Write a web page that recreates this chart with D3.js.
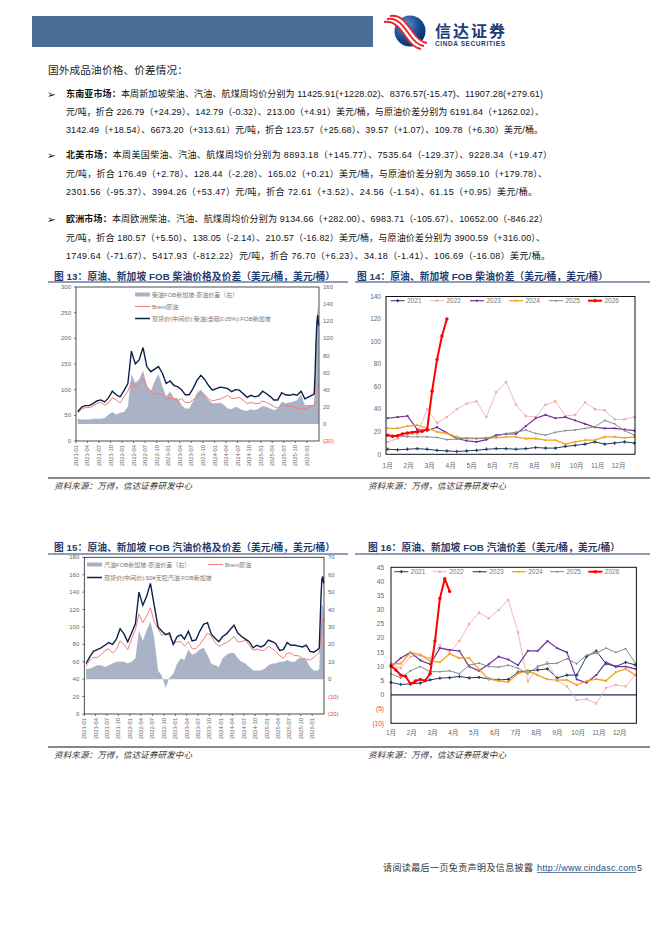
<!DOCTYPE html>
<html><head><meta charset="utf-8">
<script src="https://cdn.jsdelivr.net/npm/d3@7"></script>
<style>
body{margin:0;background:#fff}
svg{display:block}
text{font-family:"Liberation Sans","Noto Sans CJK SC",sans-serif}
</style></head><body>
<svg id="page" width="662" height="936"></svg>
<script>
// ---- monthly series (mid-month points 2021-01 .. 2026-02, then weekly tail) ----
var tailDates = ["2026-02-27","2026-03-06","2026-03-13","2026-03-20","2026-03-27","2026-04-03"];
var tsTicks = ["2021-01","2021-04","2021-07","2021-10","2022-01","2022-04","2022-07","2022-10",
  "2023-01","2023-04","2023-07","2023-10","2024-01","2024-04","2024-07","2024-10",
  "2025-01","2025-04","2025-07","2025-10","2026-01"];

var brent = [55,62,65,65,68,73,75,70,74,84,80,74,
  86,97,115,105,112,122,106,98,90,93,90,81,
  83,83,78,83,75,75,80,86,93,90,82,78,
  80,82,85,89,83,83,85,79,73,75,73,73,
  78,75,72,67,64,70,70,67,67,64,63,62,
  65,69, 70,80,92,103,110,107];
var dieselSpot = [57,66,69,69,73,78,80,76,84,97,90,86,
  98,112,175,150,158,182,145,135,140,145,132,112,
  117,108,106,100,90,90,102,118,128,120,108,99,
  102,105,104,102,96,100,99,92,85,89,86,88,
  97,92,87,80,80,94,90,89,91,89,97,82,
  86,90, 92,130,190,230,245,225];
var dieselSpread = [6,5,5,5,6,6,6,7,11,14,11,13,
  14,20,58,48,52,62,45,38,50,58,44,32,
  38,30,30,22,18,18,26,36,40,34,28,24,
  24,25,22,18,17,20,18,16,15,17,16,18,
  21,20,18,16,18,26,24,25,26,28,34,22,
  22,22, 23,50,98,128,137,119];
var gasSpot = [58,66,72,74,76,79,82,80,86,98,92,83,
  93,104,140,125,135,150,125,100,95,91,93,80,
  89,91,86,95,84,85,95,103,105,92,87,83,
  89,92,97,102,93,89,86,83,76,79,77,79,
  85,83,81,73,74,82,79,79,78,77,79,72,
  71,74, 76,105,135,155,158,150];
var gasSpread = [6,6,7,8,8,7,8,9,10,10,10,9,
  10,12,28,22,28,33,24,5,2,-5,1,3,
  9,12,11,17,14,15,17,18,14,9,8,7,
  12,14,15,15,12,10,9,7,5,5,5,6,
  8,9,9,10,10,11,10,10,12,12,11,7,
  5,5, 6,20,34,43,42,38];

// ---- seasonal cracks: biweekly points per year, weekly for 2026 ----
var years = ["2021","2022","2023","2024","2025","2026"];
var monthLabels = ["1月","2月","3月","4月","5月","6月","7月","8月","9月","10月","11月","12月"];
var dieselCrack = [
  [4.5,4,4.5,5,4.5,3.5,3,2.5,3,3.5,4.5,5,5,4.5,5,6,5.5,5.5,7,8,9,11,9,10,11,10],
  [11,14,17,18,40,28,33,40,45,47,33,55,64,44,34,33,44,47,34,35,46,40,39,31,31,33],
  [32,33,34,22,21,24,19,14,12,11,13,17,18,18,25,32,35,32,33,30,27,24,23,23,22,21],
  [23,23,25,26,23,20,18.5,15.5,14,14,14.5,14.5,15.5,15.5,14,14,12.5,12.5,9,11,12.5,12.5,15.5,15.5,14.5,15.5],
  [17,16.5,15.5,15.5,15.5,15,13,13.5,14.5,14,14.5,16,18.5,19.5,21.5,18.5,17,19.5,21,21.5,23,24.5,30,27,21,17],
  [17,16,16.5,18,19,19.5,20,20.5,22,56,84,105,120]
];
var gasCrack = [
  [4.4,3.7,3.9,4.2,5.3,5.9,6.1,6.5,6,6.2,5.7,5.3,5.5,8,8.5,8.8,9.2,6,7,7,13.5,15.5,11,10,11.5,10.6],
  [10.5,9.5,13.5,14,13,17.5,15,19,25,29,27,30,33.5,22,4.7,10,11.5,5,3,-1.8,-1.5,-3,2.5,3.5,3,7],
  [10,13,15,12.2,10.8,16.5,15.9,15.5,10,8.5,10.8,13.5,12.5,10.5,15.5,15.5,19,16.5,15,5.5,4.3,7,11.5,10,10,9.2],
  [11,11,15,14.2,12,11.5,14.5,13,13,9,5.6,5,4.5,7.6,8.5,7,5.5,5.2,5.3,3.5,4.9,5.6,5,8,9.2,7],
  [7.5,6,8.5,10,8.2,8.2,8.5,7.5,10.5,11.2,10,9.8,10.5,9.4,7.5,10,11,11.2,12.8,11,14,14.7,16.5,15,16.3,11.2],
  [10.2,8.8,7,6.5,3.9,4.9,5.5,5,7.5,19,34,41,36.5]
];

var yearStyle = [
  {color:"#1f3a68", width:1, sym:d3.symbolCross, size:6},
  {color:"#f4a3aa", width:0.8, sym:d3.symbolCross, size:5},
  {color:"#7030a0", width:1.2, sym:d3.symbolCircle, size:4},
  {color:"#f5a21b", width:1.3, sym:d3.symbolTriangle, size:4},
  {color:"#858c8c", width:1, sym:d3.symbolCircle, size:3},
  {color:"#ff0000", width:2, sym:d3.symbolCircle, size:9}
];

var parseDay = d3.utcParse("%Y-%m-%d"), parseMonth = d3.utcParse("%Y-%m");
var tsDates = d3.utcMonth.range(new Date(Date.UTC(2021,0,1)), new Date(Date.UTC(2026,2,1)))
  .map(d => d3.utcDay.offset(d, 14)).concat(tailDates.map(parseDay));

var svg = d3.select("#page");
svg.append("rect").attr("width", 662).attr("height", 936).attr("fill", "#fff");

function fitText(sel, target) {
  var w = sel.node().getComputedTextLength();
  if (w > target) sel.attr("font-size", parseFloat(sel.attr("font-size")) * target / w * 0.99);
  sel.attr("textLength", target).attr("lengthAdjust", "spacing");
}

// ---- header ----
svg.append("rect").attr("x", 32).attr("y", 16).attr("width", 341).attr("height", 31).attr("fill", "#4b6d94");
var defs = svg.append("defs");
var rg = defs.append("radialGradient").attr("id", "ball").attr("cx", "35%").attr("cy", "30%").attr("r", "75%");
rg.append("stop").attr("offset", "0%").attr("stop-color", "#5f8fd0");
rg.append("stop").attr("offset", "60%").attr("stop-color", "#1c4a93");
rg.append("stop").attr("offset", "100%").attr("stop-color", "#0b2a62");
svg.append("circle").attr("cx", 410).attr("cy", 31).attr("r", 15.5).attr("fill", "url(#ball)");
svg.append("path").attr("d", "M387,19 C398,17 404,27 409,34 C413,40 417,45 424,46")
  .attr("fill", "none").attr("stroke", "#fff").attr("stroke-width", 9);
[-3, 0, 3].forEach(function (o) {
  svg.append("path").attr("d", `M${387 + o},${19 - o} C${398 + o},${17 - o} ${404 + o},${27 - o} ${409 + o},${34 - o} C${413 + o},${40 - o} ${417 + o},${45 - o} ${424 + o},${46 - o}`)
    .attr("fill", "none").attr("stroke", "#e4252b").attr("stroke-width", 1.8);
});
fitText(svg.append("text").attr("x", 435).attr("y", 37).attr("font-size", 16).attr("font-weight", "bold")
  .attr("fill", "#1a3c7a").text("信达证券"), 70);
fitText(svg.append("text").attr("x", 435).attr("y", 45.5).attr("font-size", 6.5).attr("font-weight", "bold")
  .attr("fill", "#1a3c7a").text("CINDA SECURITIES"), 70);

// ---- text block ----
fitText(svg.append("text").attr("x", 48).attr("y", 74).attr("font-size", 11).attr("fill", "#222")
  .text("国外成品油价格、价差情况："), 140);

var bodyLines = [
  {y:97, w:477, label:"东南亚市场：", text:"本周新加坡柴油、汽油、航煤周均价分别为 11425.91(+1228.02)、8376.57(-15.47)、11907.28(+279.61)"},
  {y:115, w:478, text:"元/吨，折合 226.79（+24.29）、142.79（-0.32）、213.00（+4.91）美元/桶，与原油价差分别为 6191.84（+1262.02）、"},
  {y:133, w:477, text:"3142.49（+18.54）、6673.20（+313.61）元/吨，折合 123.57（+25.68）、39.57（+1.07）、109.78（+6.30）美元/桶。"},
  {y:158, w:486, label:"北美市场：", text:"本周美国柴油、汽油、航煤周均价分别为 8893.18（+145.77）、7535.64（-129.37）、9228.34（+19.47）"},
  {y:176.5, w:481, text:"元/吨，折合 176.49（+2.78）、128.44（-2.28）、165.02（+0.21）美元/桶，与原油价差分别为 3659.10（+179.78）、"},
  {y:195, w:471, text:"2301.56（-95.37）、3994.26（+53.47）元/吨，折合 72.61（+3.52）、24.56（-1.54）、61.15（+0.95）美元/桶。"},
  {y:222, w:482, label:"欧洲市场：", text:"本周欧洲柴油、汽油、航煤周均价分别为 9134.66（+282.00）、6983.71（-105.67）、10652.00（-846.22）"},
  {y:240.5, w:479, text:"元/吨，折合 180.57（+5.50）、138.05（-2.14）、210.57（-16.82）美元/桶，与原油价差分别为 3900.59（+316.00）、"},
  {y:259, w:484, text:"1749.64（-71.67）、5417.93（-812.22）元/吨，折合 76.70（+6.23）、34.18（-1.41）、106.69（-16.08）美元/桶。"}
];
bodyLines.forEach(function (l) {
  if (l.label) {
    svg.append("text").attr("x", 47).attr("y", l.y + 0.5).attr("font-size", 10.5).attr("fill", "#111")
      .style("font-family", "DejaVu Sans").text("➢");
  }
  var t = svg.append("text").attr("x", 66).attr("y", l.y).attr("font-size", 9).attr("fill", "#111");
  if (l.label) t.append("tspan").attr("font-weight", "bold").text(l.label);
  t.append("tspan").text(l.text);
  fitText(t, l.w);
});

// ---- titles, rules, sources ----
var titles = [
  {x:54, y:279.5, w:281, t:"图 13：原油、新加坡 FOB 柴油价格及价差（美元/桶，美元/桶）"},
  {x:357, y:279.5, w:251, t:"图 14：原油、新加坡 FOB 柴油价差（美元/桶，美元/桶）"},
  {x:54, y:551, w:281, t:"图 15：原油、新加坡 FOB 汽油价格及价差（美元/桶，美元/桶）"},
  {x:368, y:551, w:252, t:"图 16：原油、新加坡 FOB 汽油价差（美元/桶，美元/桶）"}
];
titles.forEach(function (d) {
  fitText(svg.append("text").attr("x", d.x).attr("y", d.y).attr("font-size", 10).attr("font-weight", "bold")
    .attr("fill", "#1f3b70").text(d.t), d.w);
});
[[48, 348, 282], [355, 650, 282], [48, 348, 554], [355, 650, 554]].forEach(function (r) {
  svg.append("line").attr("x1", r[0]).attr("x2", r[1]).attr("y1", r[2]).attr("y2", r[2])
    .attr("stroke", "#1f3b70").attr("stroke-width", 1.2);
});
[478, 747].forEach(function (y) {
  svg.append("line").attr("x1", 48).attr("x2", 650).attr("y1", y).attr("y2", y).attr("stroke", "#111").attr("stroke-width", 1);
});
[[54, 488.5], [368, 488.5], [54, 757.5], [368, 757.5]].forEach(function (p) {
  fitText(svg.append("text").attr("x", p[0]).attr("y", p[1]).attr("font-size", 8.5).attr("font-style", "italic")
    .attr("fill", "#333").text("资料来源：万得，信达证券研发中心"), 138);
});

// ---- footer ----
fitText(svg.append("text").attr("x", 383).attr("y", 871).attr("font-size", 9).attr("fill", "#333")
  .text("请阅读最后一页免责声明及信息披露"), 150);
fitText(svg.append("text").attr("x", 537).attr("y", 871).attr("font-size", 9).attr("fill", "#1f4e79")
  .text("http://www.cindasc.com"), 99);
svg.append("line").attr("x1", 537).attr("x2", 636).attr("y1", 872.5).attr("y2", 872.5).attr("stroke", "#1f4e79").attr("stroke-width", 0.7);
svg.append("text").attr("x", 637).attr("y", 871).attr("font-size", 9).attr("fill", "#333").text("5");

// ---- time series charts ----
function fmtR(v) { return v < 0 ? "(" + (-v) + ")" : String(v); }

function tsChart(c) {
  var g = svg.append("g");
  var x = d3.scaleUtc().domain([Date.UTC(2021, 0, 1), Date.UTC(2026, 3, 6)]).range([c.x0, c.x1]);
  var yL = d3.scaleLinear().domain([0, c.lMax]).range([c.y1, c.y0]);
  var yR = d3.scaleLinear().domain([c.rMin, c.rMax]).range([c.y1, c.y0]);
  var idx = d3.range(tsDates.length);

  g.append("path").datum(idx).attr("fill", "#aab3c5")
    .attr("d", d3.area().x(i => x(tsDates[i])).y0(yR(0)).y1(i => yR(c.spread[i])));
  g.append("path").datum(idx).attr("fill", "none").attr("stroke", "#f47c7c").attr("stroke-width", 1)
    .attr("d", d3.line().x(i => x(tsDates[i])).y(i => yL(brent[i])));
  g.append("path").datum(idx).attr("fill", "none").attr("stroke", "#0e1f4d").attr("stroke-width", 1.4)
    .attr("d", d3.line().x(i => x(tsDates[i])).y(i => yL(c.spot[i])));

  g.append("rect").attr("x", c.x0).attr("y", c.y0).attr("width", c.x1 - c.x0).attr("height", c.y1 - c.y0)
    .attr("fill", "none").attr("stroke", "#222").attr("stroke-width", 0.8);

  d3.range(0, c.lMax + 1, c.lStep).forEach(function (v) {
    g.append("line").attr("x1", c.x0 - 2).attr("x2", c.x0).attr("y1", yL(v)).attr("y2", yL(v)).attr("stroke", "#222").attr("stroke-width", 0.6);
    g.append("text").attr("x", c.x0 - 5).attr("y", yL(v)).attr("dy", "0.35em").attr("text-anchor", "end")
      .attr("font-size", 6).attr("fill", "#666").text(v);
  });
  d3.range(c.rMin, c.rMax + 1, c.rStep).forEach(function (v) {
    g.append("text").attr("x", c.x1 + 4).attr("y", yR(v)).attr("dy", "0.35em")
      .attr("font-size", 6).attr("fill", v < 0 ? "#e8413c" : "#666").text(fmtR(v));
  });
  tsTicks.forEach(function (s) {
    var xx = x(parseMonth(s));
    g.append("line").attr("x1", xx).attr("x2", xx).attr("y1", c.y1).attr("y2", c.y1 + 2).attr("stroke", "#222").attr("stroke-width", 0.6);
    g.append("text").attr("transform", `translate(${xx + 2},${c.y1 + 4}) rotate(-90)`).attr("text-anchor", "end")
      .attr("font-size", 5.8).attr("fill", "#666").text(s);
  });

  // legend
  c.legend.forEach(function (l) {
    if (l.type === "area") {
      g.append("rect").attr("x", l.x).attr("y", l.y - 2).attr("width", 15).attr("height", 4).attr("fill", "#aab3c5");
    } else {
      g.append("line").attr("x1", l.x).attr("x2", l.x + 15).attr("y1", l.y).attr("y2", l.y)
        .attr("stroke", l.color).attr("stroke-width", l.type === "navy" ? 1.5 : 1);
    }
    g.append("text").attr("x", l.x + 17).attr("y", l.y).attr("dy", "0.35em").attr("font-size", 6)
      .attr("fill", "#777").text(l.text);
  });
}

tsChart({x0:76, x1:319, y0:287, y1:441, lMax:300, lStep:50, rMin:-20, rMax:160, rStep:20,
  spot:dieselSpot, spread:dieselSpread,
  legend:[
    {type:"area", x:135, y:294.5, text:"柴油FOB新加坡-原油价差（右）"},
    {type:"line", color:"#f47c7c", x:135, y:306.5, text:"Brent原油"},
    {type:"navy", color:"#0e1f4d", x:135, y:318.5, text:"现货价(中间价):柴油(含硫0.05%):FOB新加坡"}
  ]});
tsChart({x0:84.3, x1:324, y0:557.3, y1:714, lMax:180, lStep:20, rMin:-20, rMax:70, rStep:10,
  spot:gasSpot, spread:gasSpread,
  legend:[
    {type:"area", x:87, y:564.5, text:"汽油FOB新加坡-原油价差（右）"},
    {type:"line", color:"#f47c7c", x:208, y:564.5, text:"Brent原油"},
    {type:"navy", color:"#0e1f4d", x:87, y:577.5, text:"现货价(中间价):92#无铅汽油:FOB新加坡"}
  ]});

// ---- seasonal charts ----
function seasonChart(c) {
  var g = svg.append("g");
  var x = d3.scaleLinear().domain(c.xDom).range([c.x0, c.x1]);
  var y = d3.scaleLinear().domain([c.yMin, c.yMax]).range([c.y1, c.y0]);

  if (c.yMin < 0) {
    g.append("line").attr("x1", c.x0).attr("x2", c.x1).attr("y1", y(0)).attr("y2", y(0))
      .attr("stroke", "#1c2b4f").attr("stroke-width", 1.2);
  }
  c.data.forEach(function (vals, k) {
    var st = yearStyle[k];
    var step = k === 5 ? 0.235 : 0.47;
    var line = d3.line().x((v, i) => x(i * step)).y(v => y(v));
    g.append("path").datum(vals).attr("fill", "none").attr("stroke", st.color)
      .attr("stroke-width", st.width).attr("stroke-linejoin", "round").attr("d", line);
    g.selectAll(null).data(vals).enter().append("path")
      .attr("d", d3.symbol().type(st.sym).size(st.size))
      .attr("transform", (v, i) => `translate(${x(i * step)},${y(v)})${k === 1 ? " rotate(45)" : ""}`)
      .attr("fill", st.color);
  });

  g.append("rect").attr("x", c.x0).attr("y", c.y0).attr("width", c.x1 - c.x0).attr("height", c.y1 - c.y0)
    .attr("fill", "none").attr("stroke", "#111").attr("stroke-width", 1);

  d3.range(c.yMin, c.yMax + 0.1, c.yStep).forEach(function (v) {
    g.append("text").attr("x", c.labX).attr("y", y(v)).attr("dy", "0.35em").attr("text-anchor", "end")
      .attr("font-size", 6.5).attr("fill", v < 0 ? "#e8413c" : "#666").text(fmtR(v));
  });
  monthLabels.forEach(function (m, i) {
    g.append("text").attr("x", x(i)).attr("y", c.labY).attr("text-anchor", "middle")
      .attr("font-size", 6.5).attr("fill", "#666").text(m);
  });

  years.forEach(function (yr, k) {
    var st = yearStyle[k], lx = c.legX[k];
    g.append("line").attr("x1", lx).attr("x2", lx + 14).attr("y1", c.legY).attr("y2", c.legY)
      .attr("stroke", st.color).attr("stroke-width", st.width);
    g.append("path").attr("d", d3.symbol().type(st.sym).size(st.size))
      .attr("transform", `translate(${lx + 7},${c.legY})${k === 1 ? " rotate(45)" : ""}`).attr("fill", st.color);
    g.append("text").attr("x", lx + 16.5).attr("y", c.legY).attr("dy", "0.35em").attr("font-size", 6.5)
      .attr("fill", "#777").text(yr);
  });
}

seasonChart({x0:386, x1:635, y0:296.5, y1:454.3, xDom:[-0.08, 11.78], yMin:0, yMax:140, yStep:20,
  labX:381, labY:467.5, legY:300.7, legX:[390.7, 430, 470, 509, 549, 588], data:dieselCrack});
seasonChart({x0:391, x1:636.4, y0:567.3, y1:723.3, xDom:[0, 11.8], yMin:-10, yMax:45, yStep:5,
  labX:384, labY:735, legY:571.7, legX:[394.3, 432.7, 472.7, 511.7, 550, 588.3], data:gasCrack});
</script></body></html>
